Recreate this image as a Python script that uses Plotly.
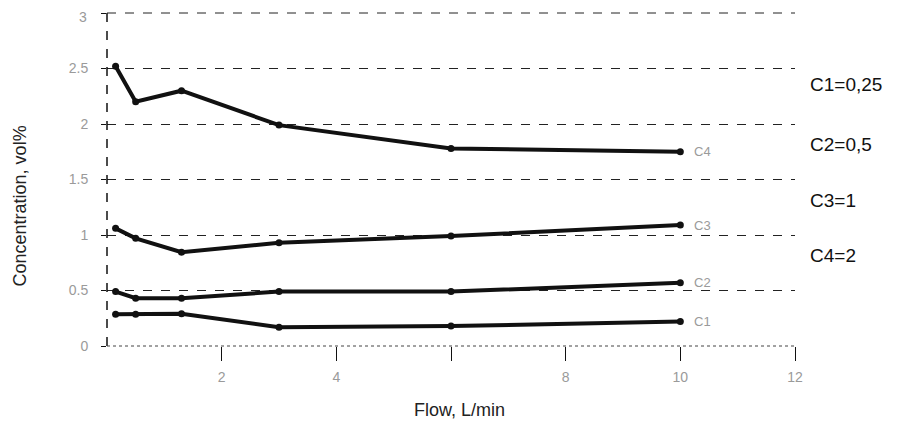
import plotly.graph_objects as go

flow = [0.15, 0.5, 1.3, 3, 6, 10]
c1 = [0.285, 0.285, 0.29, 0.17, 0.18, 0.22]
c2 = [0.49, 0.43, 0.43, 0.49, 0.49, 0.57]
c3 = [1.06, 0.97, 0.845, 0.93, 0.99, 1.09]
c4 = [2.52, 2.2, 2.3, 1.99, 1.78, 1.75]
series_names = ["C1", "C2", "C3", "C4"]
series_vals = [c1, c2, c3, c4]
legend_texts = ["C1=0,25", "C2=0,5", "C3=1", "C4=2"]
x_tickvals = [2, 4, 6, 8, 10, 12]
x_ticktext = ["2", "4", "", "8", "10", "12"]
y_tickvals = [0, 0.5, 1, 1.5, 2, 2.5, 3]
y_ticktext = ["0", "0.5", "1", "1.5", "2", "2.5", "3"]

FONT = "Liberation Sans"
TICKFONT = dict(family=FONT, size=14, color="#9a9a9a")
fig = go.Figure()
for name, vals in zip(series_names, series_vals):
    fig.add_trace(go.Scatter(
        x=flow, y=vals, mode="lines+markers", name=name,
        line=dict(color="#111", width=4),
        marker=dict(color="#111", size=7),
        showlegend=False,
    ))
    fig.add_annotation(x=flow[-1], y=vals[-1], xref="x", yref="y",
                       text=name, showarrow=False, xanchor="left", xshift=12,
                       font=dict(family=FONT, size=13, color="#9a9a9a"))

legend_y = [0.784, 0.604, 0.438, 0.273]
for t, yy in zip(legend_texts, legend_y):
    fig.add_annotation(x=1.019, y=yy, xref="paper", yref="paper", text=t,
                       showarrow=False, xanchor="left", yanchor="middle",
                       font=dict(family=FONT, size=19, color="#111"))

fig.add_annotation(x=-0.126, y=0.42, xref="paper", yref="paper",
                   text="Concentration, vol%", textangle=-90, showarrow=False,
                   xanchor="center", yanchor="middle",
                   font=dict(family=FONT, size=18, color="#222"))
fig.add_annotation(x=0.513, y=-0.192, xref="paper", yref="paper",
                   text="Flow, L/min", showarrow=False,
                   xanchor="center", yanchor="middle",
                   font=dict(family=FONT, size=18, color="#222"))
# top y tick label (would be clipped at the figure edge as a normal tick label)
fig.add_annotation(x=0, y=y_tickvals[-1], xref="paper", yref="y",
                   text=y_ticktext[-1], showarrow=False, xanchor="right",
                   yanchor="top", xshift=-18, yshift=6, font=TICKFONT)

# axis lines (dashed, as in the scanned original)
fig.add_shape(type="line", xref="paper", yref="paper", x0=0, x1=0, y0=0, y1=1,
              line=dict(color="#111", width=1.5, dash="dash"))
fig.add_shape(type="line", xref="paper", yref="paper", x0=0, x1=1, y0=0, y1=0,
              line=dict(color="#444", width=1, dash="dot"))
fig.add_shape(type="line", xref="paper", yref="paper", x0=0, x1=1, y0=1, y1=1,
              line=dict(color="#222", width=1, dash="dash"))

fig.update_xaxes(range=[0, 12], tickvals=x_tickvals, ticktext=x_ticktext,
                 showgrid=False, zeroline=False, showline=False, automargin=False,
                 ticks="outside", ticklen=14, tickcolor="#111", tickwidth=1,
                 tickfont=TICKFONT, ticklabelstandoff=4)
fig.update_yaxes(range=[0, 3], tickvals=y_tickvals, ticktext=y_ticktext,
                 showgrid=True, gridcolor="#222", gridwidth=1, griddash="dash",
                 zeroline=False, showline=False, automargin=False,
                 ticks="outside", ticklen=5, tickcolor="#111",
                 tickfont=TICKFONT, ticklabelstandoff=10)

fig.update_layout(width=909, height=439, plot_bgcolor="white", paper_bgcolor="white",
                  margin=dict(l=99, r=122, t=5, b=101))
fig.write_html("out.html")
